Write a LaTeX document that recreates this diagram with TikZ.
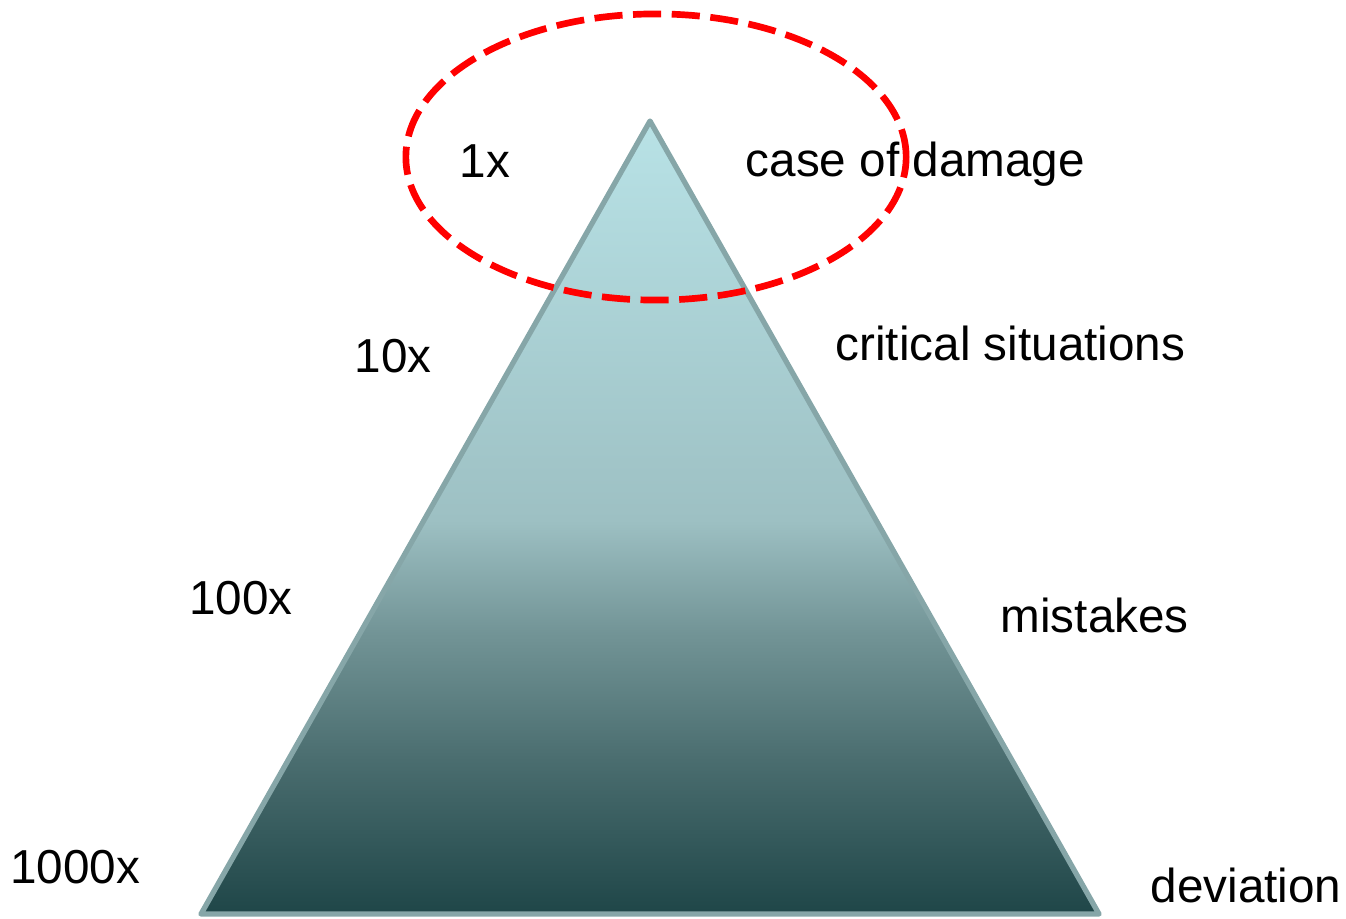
\documentclass[tikz,border=0pt]{standalone}
\usepackage{fontspec}
\setmainfont{Liberation Sans}
\usetikzlibrary{shapes.geometric}
\definecolor{pyrtop}{HTML}{B8E2E6}
\definecolor{pyrmid}{HTML}{9DC0C3}
\definecolor{pyrlow}{HTML}{729496}
\definecolor{pyrdeep}{HTML}{4A6D6F}
\definecolor{pyrbase}{HTML}{1F4648}
\definecolor{pyredge}{HTML}{86A6A8}
\pgfdeclareverticalshading{pyramid}{100bp}{color(0bp)=(pyrbase); color(25bp)=(pyrbase); color(34.7bp)=(pyrdeep); color(42.7bp)=(pyrlow); color(49.8bp)=(pyrmid); color(75bp)=(pyrtop); color(100bp)=(pyrtop)}

\begin{document}
\begin{tikzpicture}[%
	x=0.01cm, y=-0.01cm,
	lbl/.style={font=\fontsize{13.55}{16}\selectfont, inner sep=0pt},
	num/.style={lbl, anchor=center},
	txt/.style={lbl, anchor=west},
	edge0/.style={draw=pyredge, line width=1.5pt, line join=round},
	mark0/.style={draw=red, line width=1.9pt, dash pattern=on 8pt off 3pt}
]

\useasboundingbox (0,0) rectangle (1346,918);

\coordinate (top) at (650,121);
\coordinate (bl)  at (201,914);
\coordinate (br)  at (1099,914);

\shade[shading=pyramid, edge0] (top) -- (br) -- (bl) -- cycle;

\node[num] (n1)    at (485,161) {1x};
\node[num] (n10)   at (393,356) {10x};
\node[num] (n100)  at (241,598) {100x};
\node[num] (n1000) at (75,867)  {1000x};

\node[txt] (damage)   at (745,164) {case of damage};
\node[txt] (critical) at (835,343) {critical situations};
\node[txt] (mistakes) at (1000,615) {mistakes};
\node[txt] (dev)      at (1150,885) {deviation};

\node[mark0, ellipse, minimum width=5cm, minimum height=2.86cm, inner sep=0pt] (focus) at (656,157) {};

\end{tikzpicture}
\end{document}
